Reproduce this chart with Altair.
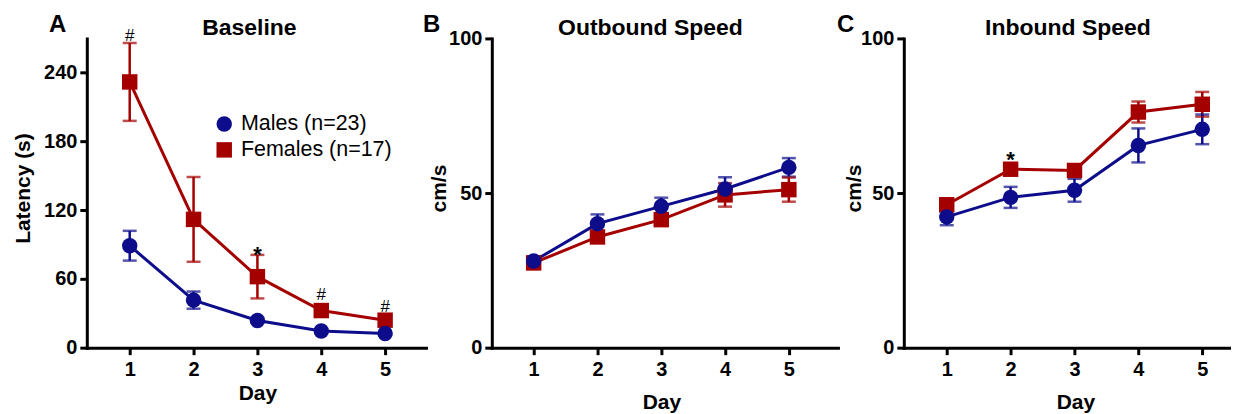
import altair as alt
import pandas as pd

days = [1, 2, 3, 4, 5]
male_label = "Males (n=23)"
female_label = "Females (n=17)"

# Panel A - Baseline latency (s)
a_male_mean = [89.0, 41.5, 23.7, 14.5, 12.4]
a_male_sem = [13.0, 7.5, 2.0, 1.5, 1.2]
a_female_mean = [232.0, 112.0, 62.0, 32.4, 24.0]
a_female_sem = [34.0, 37.0, 19.0, 4.0, 3.0]
a_ann_day = [1, 3, 4, 5]
a_ann_text = ["#", "*", "#", "#"]
a_ann_y = [267.8, 75.1, 41.7, 31.3]

# Panel B - Outbound speed (cm/s)
b_male_mean = [28.0, 40.1, 45.7, 51.3, 58.3]
b_male_sem = [1.5, 3.0, 2.8, 3.8, 3.0]
b_female_mean = [27.4, 35.8, 41.4, 49.4, 51.1]
b_female_sem = [1.2, 1.8, 2.0, 3.8, 3.9]
b_ann_day = []
b_ann_text = []
b_ann_y = []

# Panel C - Inbound speed (cm/s)
c_male_mean = [42.3, 48.6, 50.9, 65.4, 70.6]
c_male_sem = [2.7, 3.4, 3.7, 5.5, 4.8]
c_female_mean = [46.2, 57.7, 57.3, 76.2, 78.7]
c_female_sem = [2.1, 1.5, 1.5, 3.4, 4.0]
c_ann_day = [2]
c_ann_text = ["*"]
c_ann_y = [58.5]

BLUE = "#0d0d8c"
RED = "#a40000"
FONT = "Liberation Sans"
groups = [male_label, female_label]
groups_rev = [female_label, male_label]


def make_df(mm, ms, fm, fs):
    rows = []
    for g, means, sems in [(female_label, fm, fs), (male_label, mm, ms)]:
        for d, m, s in zip(days, means, sems):
            rows.append({"day": d, "group": g, "mean": m, "lo": m - s, "hi": m + s})
    return pd.DataFrame(rows)


def make_ann(d, t, y):
    return pd.DataFrame({"day": d, "txt": t, "y": y})


def panel(df, ann, title, letter, ydomain, yticks, ytitle, xdomain, width,
          show_legend, title_x, ytitle_x, xtitle_x, xtitle_y, letter_x):
    xscale = alt.Scale(domain=xdomain, nice=False, zero=False)
    yscale = alt.Scale(domain=ydomain, nice=False, zero=False)
    common = dict(
        labelFont=FONT, labelFontSize=20, labelFontWeight="bold", labelColor="black",
        titleFont=FONT, titleFontSize=21, titleFontWeight="bold", titleColor="black",
        tickSize=7, tickWidth=3, tickColor="black", domainWidth=3, domainColor="black",
        domainCap="square", grid=False, labelOverlap=False, labelPadding=3,
        titleBaseline="alphabetic",
    )
    xaxis = alt.Axis(values=days, format="d", title="Day", titleX=xtitle_x, titleY=xtitle_y,
                     titleAlign="center", **{**common, "labelPadding": 5})
    yaxis = alt.Axis(values=yticks, title=ytitle, titleX=ytitle_x, titleY=150,
                     titleAlign="center", **common)

    def xe(f):
        return alt.X(f"{f}:Q", scale=xscale, axis=xaxis)

    def ye(f):
        return alt.Y(f"{f}:Q", scale=yscale, axis=yaxis)

    # stroke / fill scales use a different domain order so their (disabled)
    # legends are never merged with the visible colour/shape legend
    stroke = alt.Stroke("g2:N", scale=alt.Scale(domain=groups_rev, range=[RED, BLUE]), legend=None)
    fill = alt.Fill("g2:N", scale=alt.Scale(domain=groups_rev, range=[RED, BLUE]), legend=None)
    if show_legend:
        leg = alt.Legend(orient="none", legendX=127, legendY=75, title=None,
                         labelFont=FONT, labelFontSize=21.5, labelColor="black",
                         symbolSize=240, rowPadding=3, labelOffset=6, labelLimit=300,
                         padding=0, symbolStrokeWidth=0)
    else:
        leg = None
    color = alt.Color("group:N", scale=alt.Scale(domain=groups, range=[BLUE, RED]), legend=leg)
    shape = alt.Shape("group:N", scale=alt.Scale(domain=groups, range=["circle", "square"]), legend=leg)

    base = alt.Chart(df)
    based = base.transform_calculate(g2="datum.group")
    bars = based.mark_rule(strokeWidth=2.5).encode(x=xe("day"), y=ye("lo"), y2="hi:Q", stroke=stroke)
    cap_lo = based.mark_tick(orient="horizontal", size=14, thickness=2.5).encode(x=xe("day"), y=ye("lo"), fill=fill)
    cap_hi = based.mark_tick(orient="horizontal", size=14, thickness=2.5).encode(x=xe("day"), y=ye("hi"), fill=fill)
    lines = based.mark_line(strokeWidth=3).encode(x=xe("day"), y=ye("mean"), stroke=stroke)
    pts = base.mark_point(filled=True, size=240, opacity=1).encode(
        x=xe("day"), y=ye("mean"), color=color, shape=shape)

    annb = alt.Chart(ann)
    hash_t = annb.transform_filter(alt.datum.txt == "#").mark_text(
        font=FONT, fontSize=17, color="black", baseline="alphabetic", align="center"
    ).encode(x=xe("day"), y=ye("y"), text="txt:N")
    star_t = annb.transform_filter(alt.datum.txt == "*").mark_text(
        font=FONT, fontSize=22, fontWeight="bold", color="black", baseline="alphabetic", align="center"
    ).encode(x=xe("day"), y=ye("y"), text="txt:N")

    let = alt.Chart(pd.DataFrame({"t": [letter]})).mark_text(
        font=FONT, fontSize=24, fontWeight="bold", color="black", baseline="alphabetic", align="left"
    ).encode(x=alt.value(letter_x), y=alt.value(-6), text="t:N")
    ttl = alt.Chart(pd.DataFrame({"t": [title]})).mark_text(
        font=FONT, fontSize=23, fontWeight="bold", color="black", baseline="alphabetic", align="center"
    ).encode(x=alt.value(title_x), y=alt.value(-3), text="t:N")

    layers = [bars, cap_lo, cap_hi, lines, pts]
    if len(ann):
        layers += [hash_t, star_t]
    layers += [let, ttl]
    return alt.layer(*layers).properties(width=width, height=310)


pa = panel(make_df(a_male_mean, a_male_sem, a_female_mean, a_female_sem),
           make_ann(a_ann_day, a_ann_text, a_ann_y),
           "Baseline", "A", [0, 270], [0, 60, 120, 180, 240], "Latency (s)",
           [0.328, 5.64], 340, True, 163, -57, 171, 52, -38)
pb = panel(make_df(b_male_mean, b_male_sem, b_female_mean, b_female_sem),
           make_ann(b_ann_day, b_ann_text, b_ann_y),
           "Outbound Speed", "B", [0, 100], [0, 50, 100], "cm/s",
           [0.344, 5.77], 347, False, 159, -46, 170, 61, -69)
pc = panel(make_df(c_male_mean, c_male_sem, c_female_mean, c_female_sem),
           make_ann(c_ann_day, c_ann_text, c_ann_y),
           "Inbound Speed", "C", [0, 100], [0, 50, 100], "cm/s",
           [0.328, 5.45], 328, False, 164.5, -43, 172, 61, -67)

chart = alt.hconcat(pa, pb, pc, spacing=66, bounds="flush").resolve_scale(
    x="independent", y="independent", color="independent", shape="independent",
    stroke="independent", fill="independent"
).configure_view(stroke=None).properties(
    padding={"left": 5, "top": 5, "right": 0, "bottom": 0}
)

chart.save("out.html", embed_options={"renderer": "svg", "actions": False})
